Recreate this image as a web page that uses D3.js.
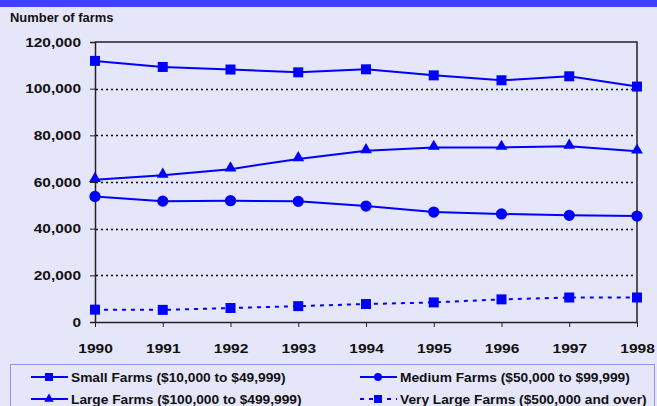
<!DOCTYPE html>
<html>
<head>
<meta charset="utf-8">
<script src="https://cdn.jsdelivr.net/npm/d3@7"></script>
<style>
  body { margin: 0; background: #E6E6FA; }
  svg { display: block; font-family: Arial, "Liberation Sans", sans-serif; }
</style>
</head>
<body>
<div class="chart"></div>
<script>
const years = [1990, 1991, 1992, 1993, 1994, 1995, 1996, 1997, 1998];
const smallFarms = [111900, 109300, 108200, 107000, 108300, 105700, 103600, 105300, 100900];
const mediumFarms = [53800, 51800, 52000, 51700, 49700, 47100, 46300, 45700, 45400];
const largeFarms = [61000, 62900, 65500, 69900, 73400, 74800, 74800, 75300, 73200];
const veryLargeFarms = [5300, 5200, 6000, 6800, 7700, 8400, 9700, 10500, 10500];
const yTicks = [0, 20000, 40000, 60000, 80000, 100000, 120000];

const seriesNames = [
  "Small Farms ($10,000 to $49,999)",
  "Medium Farms ($50,000 to $99,999)",
  "Large Farms ($100,000 to $499,999)",
  "Very Large Farms ($500,000 and over)"
];

let width = 657;
let height = 406;
let blue = "#0000FF";

// the reference text is a bit wider than plain Arial, so stretch it sideways
function stretch(sel, k) {
  sel.each(function() {
    let t = d3.select(this);
    let x0 = +t.attr("x") || 0;
    t.attr("x", x0 / k).attr("transform", `scale(${k},1)`);
  });
}

let svg = d3.select(".chart")
  .append("svg")
  .attr("width", width)
  .attr("height", height);

svg.append("rect").attr("width", width).attr("height", height).attr("fill", "#E6E6FA");
svg.append("rect").attr("width", width).attr("height", 7).attr("fill", "#4040FF");

svg.append("text")
  .attr("x", 10).attr("y", 22)
  .attr("font-size", 12).attr("font-weight", "bold").attr("fill", "#111")
  .text("Number of farms")
  .call(stretch, 1.08);

let x = d3.scalePoint().domain(years).range([95, 637]);
let y = d3.scaleLinear().domain([0, 120000]).range([322, 42]);

// dotted gridlines
svg.append("g")
  .selectAll("line")
  .data(yTicks.filter(d => d > 0 && d < 120000))
  .enter().append("line")
  .attr("x1", 96).attr("x2", 636)
  .attr("y1", d => Math.round(y(d)) + 0.5).attr("y2", d => Math.round(y(d)) + 0.5)
  .attr("stroke", "#000").attr("stroke-width", 1.3)
  .attr("stroke-dasharray", "2,3");

// plot frame top + right
svg.append("path")
  .attr("d", `M${x(1990)},${y(120000)}H${x(1998)}V${y(0)}`)
  .attr("fill", "none").attr("stroke", "#222").attr("stroke-width", 1.5);

// y axis
let yAxis = svg.append("g")
  .attr("transform", `translate(${x(1990)},0)`)
  .call(d3.axisLeft(y).tickValues(yTicks).tickFormat(d3.format(",")).tickSize(5).tickPadding(9));
yAxis.select(".domain").attr("stroke", "#222").attr("stroke-width", 1.5);
yAxis.selectAll(".tick line").attr("stroke", "#222");
yAxis.selectAll("text").attr("font-size", 13).attr("font-weight", "bold").attr("fill", "#111")
  .attr("font-family", "Arial, 'Liberation Sans', sans-serif")
  .call(stretch, 1.19);

// x axis
let xAxis = svg.append("g")
  .attr("transform", `translate(0,${y(0)})`)
  .call(d3.axisBottom(x).tickSize(5).tickPadding(16).tickSizeOuter(0));
xAxis.select(".domain").attr("stroke", "#222").attr("stroke-width", 1.5);
xAxis.selectAll(".tick line").attr("stroke", "#222");
xAxis.selectAll("text").attr("font-size", 13.5).attr("font-weight", "bold").attr("fill", "#111")
  .attr("font-family", "Arial, 'Liberation Sans', sans-serif")
  .call(stretch, 1.15);

let seriesList = [
  { name: seriesNames[0], values: smallFarms, marker: "square", dash: null },
  { name: seriesNames[1], values: mediumFarms, marker: "circle", dash: null },
  { name: seriesNames[2], values: largeFarms, marker: "triangle", dash: null },
  { name: seriesNames[3], values: veryLargeFarms, marker: "square", dash: "4,5" }
];

let symbolFor = {
  square: d3.symbol().type(d3.symbolSquare).size(100),
  circle: d3.symbol().type(d3.symbolCircle).size(100),
  triangle: d3.symbol().type(d3.symbolTriangle).size(60)
};

let line = d3.line()
  .x((d, i) => x(years[i]))
  .y(d => y(d));

seriesList.forEach(s => {
  svg.append("path")
    .datum(s.values)
    .attr("d", line)
    .attr("fill", "none")
    .attr("stroke", blue)
    .attr("stroke-width", 2)
    .attr("stroke-dasharray", s.dash);

  svg.append("g")
    .selectAll("path")
    .data(s.values)
    .enter().append("path")
    .attr("d", symbolFor[s.marker])
    .attr("transform", (d, i) => `translate(${x(years[i])},${y(d) + (s.marker === "triangle" ? -1 : 0)})`)
    .attr("fill", blue);
});

// legend
svg.append("rect")
  .attr("x", 10.5).attr("y", 364.5)
  .attr("width", 644).attr("height", 50)
  .attr("fill", "#E6E6FA").attr("stroke", "#9494EC").attr("stroke-width", 1);

let legendPos = [
  { lx: 31, ly: 377 },
  { lx: 360, ly: 377 },
  { lx: 31, ly: 399 },
  { lx: 360, ly: 399 }
];

let legendSymbol = {
  square: d3.symbol().type(d3.symbolSquare).size(64),
  circle: d3.symbol().type(d3.symbolCircle).size(50),
  triangle: d3.symbol().type(d3.symbolTriangle).size(40)
};

seriesList.forEach((s, i) => {
  let p = legendPos[i];
  let g = svg.append("g").attr("transform", `translate(${p.lx},${p.ly})`);
  g.append("line")
    .attr("x1", 0).attr("x2", 37)
    .attr("stroke", blue).attr("stroke-width", 2)
    .attr("stroke-dasharray", s.dash);
  g.append("path")
    .attr("d", legendSymbol[s.marker])
    .attr("transform", "translate(18,0)")
    .attr("fill", blue);
  g.append("text")
    .attr("x", 40).attr("y", 4.5)
    .attr("font-size", 12.5).attr("font-weight", "bold").attr("fill", "#111")
    .text(s.name)
    .call(stretch, 1.1);
});
</script>
</body>
</html>
